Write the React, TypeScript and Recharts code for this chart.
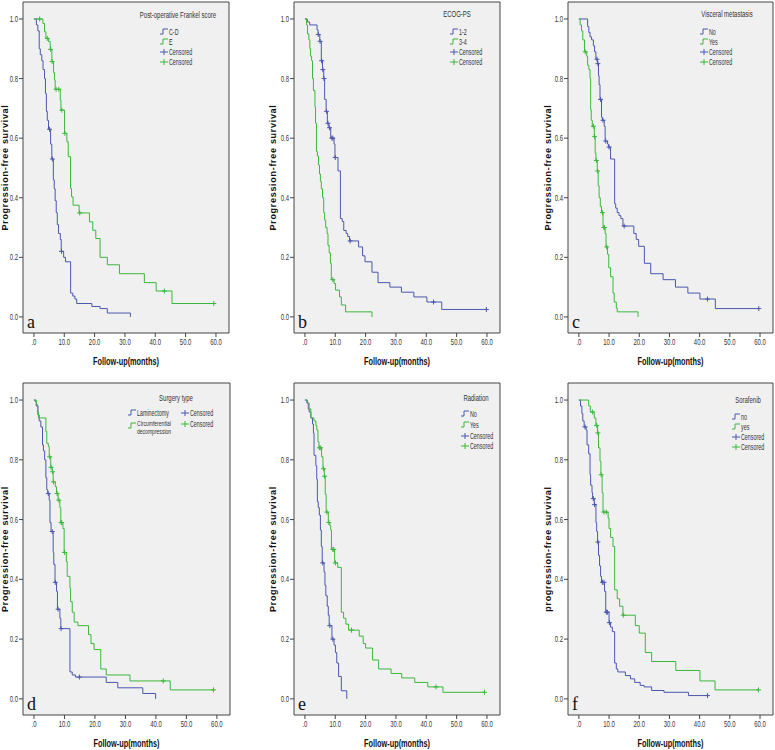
import React from 'react';
import { ComposedChart, Line, XAxis, YAxis, ReferenceArea, Label } from 'recharts';

type Pt = [number, number];

// a: Post-operative Frankel score
const aCD: Pt[] = [[0, 1], [0.8, 0.98], [1.3, 0.96], [1.75, 0.9], [2.1, 0.88], [2.6, 0.86], [3.0, 0.83], [3.5, 0.8], [3.8, 0.75], [4.1, 0.69], [4.4, 0.66], [4.8, 0.63], [5.5, 0.58], [5.9, 0.53], [6.4, 0.46], [6.7, 0.43], [7.0, 0.39], [7.35, 0.35], [7.7, 0.31], [8.1, 0.28], [8.7, 0.26], [9.0, 0.22], [9.8, 0.2], [10.4, 0.185], [12.1, 0.08], [12.8, 0.07], [13.5, 0.06], [14.1, 0.045], [19.1, 0.035], [21.8, 0.028], [24.2, 0.013], [31.8, 0]];
const aCDCens: Pt[] = [[5.15, 0.63], [6.1, 0.53], [9.1, 0.22]];
const aE: Pt[] = [[0, 1], [2.96, 0.985], [3.5, 0.957], [3.95, 0.935], [4.83, 0.924], [5.37, 0.898], [5.92, 0.857], [6.47, 0.82], [6.8, 0.795], [7.0, 0.764], [8.67, 0.728], [8.9, 0.694], [10.1, 0.616], [10.86, 0.588], [11.3, 0.538], [12.06, 0.431], [12.4, 0.403], [12.9, 0.375], [14.9, 0.349], [18.3, 0.319], [19.4, 0.291], [20.4, 0.263], [21.8, 0.2], [24.2, 0.175], [28.2, 0.145], [36.4, 0.115], [40.3, 0.087], [45.5, 0.045], [59.3, 0.045]];
const aECens: Pt[] = [[1.9, 1], [4.4, 0.935], [5.5, 0.898], [6.0, 0.857], [7.3, 0.764], [8.2, 0.764], [9.2, 0.694], [10.2, 0.616], [15.1, 0.349], [43, 0.087], [59.3, 0.045]];

// b: ECOG-PS
const b12: Pt[] = [[0, 1], [0.8, 0.99], [1.6, 0.98], [4.0, 0.963], [4.35, 0.948], [4.9, 0.925], [5.4, 0.86], [5.8, 0.83], [6.2, 0.8], [6.5, 0.73], [7.0, 0.69], [7.4, 0.65], [7.9, 0.635], [8.5, 0.6], [9.6, 0.58], [9.9, 0.535], [10.9, 0.49], [11.7, 0.33], [12.3, 0.32], [12.8, 0.29], [13.6, 0.28], [14.1, 0.27], [14.7, 0.255], [17.7, 0.235], [19.0, 0.205], [19.8, 0.185], [22.1, 0.15], [24.1, 0.115], [28.0, 0.1], [31.8, 0.083], [35.9, 0.067], [40.2, 0.05], [45.1, 0.025], [59.8, 0.025]];
const b12Cens: Pt[] = [[4.4, 0.948], [5.0, 0.925], [5.5, 0.86], [5.9, 0.83], [6.3, 0.8], [7.1, 0.69], [7.6, 0.65], [8.1, 0.635], [8.9, 0.6], [9.2, 0.6], [10.0, 0.535], [14.9, 0.255], [42.4, 0.05], [59.8, 0.025]];
const b34: Pt[] = [[0, 1], [0.55, 0.98], [0.87, 0.95], [1.3, 0.93], [1.63, 0.9], [1.85, 0.875], [2.2, 0.86], [2.5, 0.8], [2.8, 0.76], [3.3, 0.705], [3.5, 0.65], [3.8, 0.555], [4.1, 0.54], [4.45, 0.51], [4.8, 0.48], [5.1, 0.455], [5.4, 0.43], [5.8, 0.4], [6.2, 0.35], [6.5, 0.325], [6.85, 0.3], [7.3, 0.28], [7.6, 0.24], [8.0, 0.215], [8.4, 0.18], [8.7, 0.125], [9.6, 0.112], [10.1, 0.09], [11.4, 0.067], [12.0, 0.04], [13.4, 0.017], [22.1, 0]];
const b34Cens: Pt[] = [[9.2, 0.125]];

// c: Visceral metastasis
const cNo: Pt[] = [[0, 1], [2.9, 0.975], [3.3, 0.955], [3.7, 0.94], [4.2, 0.93], [4.8, 0.91], [5.2, 0.89], [5.65, 0.865], [6.2, 0.85], [6.5, 0.81], [6.7, 0.78], [7.0, 0.73], [7.5, 0.67], [7.8, 0.66], [8.4, 0.64], [8.7, 0.59], [9.5, 0.58], [9.8, 0.57], [10.5, 0.53], [11.85, 0.38], [12.2, 0.365], [12.7, 0.35], [13.3, 0.34], [13.9, 0.33], [14.6, 0.305], [18.2, 0.28], [19.0, 0.26], [19.8, 0.237], [21.7, 0.18], [23.8, 0.145], [27.9, 0.125], [32.0, 0.1], [36.1, 0.08], [40.1, 0.06], [45.2, 0.028], [59.6, 0.028]];
const cNoCens: Pt[] = [[6.0, 0.865], [6.3, 0.85], [7.2, 0.73], [8.0, 0.66], [8.9, 0.59], [10.0, 0.57], [15.0, 0.305], [42.6, 0.06], [59.6, 0.028]];
const cYes: Pt[] = [[0, 1], [0.43, 0.98], [0.87, 0.96], [1.3, 0.93], [1.85, 0.89], [2.6, 0.875], [2.9, 0.845], [3.3, 0.83], [3.7, 0.8], [3.9, 0.695], [4.1, 0.66], [4.45, 0.64], [5.1, 0.605], [5.4, 0.55], [5.65, 0.525], [6.1, 0.49], [6.4, 0.44], [6.7, 0.4], [7.1, 0.37], [7.5, 0.35], [8.0, 0.3], [8.7, 0.28], [9.0, 0.235], [9.5, 0.21], [9.9, 0.165], [10.5, 0.135], [11.3, 0.08], [11.7, 0.05], [12.4, 0.03], [12.7, 0.017], [19.6, 0]];
const cYesCens: Pt[] = [[2.1, 0.89], [4.8, 0.64], [5.2, 0.605], [5.8, 0.525], [6.2, 0.49], [7.8, 0.35], [8.3, 0.3], [8.5, 0.3], [9.2, 0.235]];

// d: Surgery type
const dLam: Pt[] = [[0, 1], [0.43, 0.995], [0.75, 0.98], [1.3, 0.95], [1.7, 0.93], [2.25, 0.91], [2.8, 0.85], [3.1, 0.83], [3.5, 0.8], [3.9, 0.74], [4.2, 0.7], [4.5, 0.687], [5.0, 0.665], [5.25, 0.59], [5.6, 0.56], [6.3, 0.49], [6.5, 0.45], [6.9, 0.39], [7.4, 0.36], [7.7, 0.3], [8.5, 0.27], [8.8, 0.235], [11.8, 0.09], [12.55, 0.08], [13.6, 0.073], [23.7, 0.055], [27.5, 0.037], [35.7, 0.018], [39.9, 0]];
const dLamCens: Pt[] = [[4.7, 0.687], [6.0, 0.56], [7.0, 0.39], [7.9, 0.3], [8.9, 0.235], [14.9, 0.073]];
const dCirc: Pt[] = [[0, 1], [0.75, 0.985], [1.2, 0.96], [1.5, 0.94], [3.9, 0.895], [4.2, 0.855], [4.7, 0.845], [5.0, 0.81], [5.5, 0.775], [6.0, 0.76], [6.3, 0.726], [7.0, 0.71], [7.4, 0.687], [7.9, 0.665], [8.5, 0.64], [8.8, 0.59], [9.5, 0.57], [9.9, 0.49], [10.6, 0.46], [10.9, 0.41], [11.8, 0.37], [12.0, 0.325], [12.55, 0.29], [13.2, 0.257], [14.4, 0.245], [17.9, 0.215], [18.7, 0.185], [19.7, 0.165], [21.9, 0.1], [23.7, 0.08], [31.5, 0.06], [44.7, 0.03], [58.9, 0.03]];
const dCircCens: Pt[] = [[5.15, 0.81], [5.6, 0.775], [6.1, 0.76], [6.4, 0.726], [7.6, 0.687], [8.15, 0.665], [8.9, 0.59], [9.1, 0.59], [10.0, 0.49], [42.4, 0.06], [58.9, 0.03]];

// e: Radiation
const eNo: Pt[] = [[0, 1], [0.65, 0.99], [1.1, 0.97], [1.4, 0.96], [1.95, 0.94], [2.5, 0.92], [2.8, 0.89], [3.0, 0.815], [3.6, 0.78], [3.9, 0.735], [4.1, 0.66], [4.4, 0.64], [4.75, 0.615], [5.1, 0.565], [5.4, 0.51], [5.7, 0.455], [6.3, 0.425], [6.6, 0.38], [6.9, 0.345], [7.35, 0.31], [7.7, 0.28], [8.0, 0.245], [8.9, 0.2], [9.6, 0.18], [10.05, 0.155], [10.5, 0.12], [11.1, 0.075], [12.0, 0.027], [13.8, 0]];
const eNoCens: Pt[] = [[5.85, 0.455], [8.2, 0.245], [9.2, 0.2]];
const eYes: Pt[] = [[0, 1], [0.86, 0.99], [1.4, 0.97], [1.95, 0.94], [3.0, 0.93], [3.6, 0.915], [3.9, 0.9], [4.3, 0.86], [4.65, 0.84], [5.5, 0.81], [5.95, 0.77], [6.4, 0.745], [6.7, 0.685], [7.0, 0.625], [7.7, 0.59], [8.2, 0.58], [8.5, 0.565], [8.75, 0.5], [9.8, 0.455], [10.8, 0.44], [12.0, 0.29], [12.75, 0.27], [13.5, 0.25], [14.4, 0.23], [17.9, 0.21], [19.2, 0.185], [20.0, 0.17], [22.3, 0.13], [24.3, 0.1], [28.4, 0.085], [31.9, 0.07], [36.2, 0.055], [40.5, 0.04], [45.5, 0.022], [59.2, 0.022]];
const eYesCens: Pt[] = [[4.75, 0.84], [5.2, 0.84], [6.15, 0.77], [6.5, 0.745], [7.25, 0.625], [7.9, 0.59], [9.2, 0.5], [9.5, 0.5], [10.05, 0.455], [15.35, 0.23], [43.2, 0.04], [59.2, 0.022]];

// f: Sorafenib
const fNo: Pt[] = [[0, 1], [0.55, 0.98], [1.0, 0.955], [1.3, 0.93], [1.75, 0.91], [2.4, 0.9], [2.7, 0.85], [3.25, 0.82], [3.7, 0.75], [3.9, 0.715], [4.35, 0.69], [4.55, 0.67], [5.1, 0.65], [5.65, 0.59], [5.9, 0.56], [6.2, 0.525], [6.5, 0.48], [6.85, 0.445], [7.2, 0.41], [7.5, 0.39], [8.5, 0.36], [8.9, 0.29], [10.0, 0.255], [10.5, 0.24], [11.1, 0.225], [11.85, 0.12], [12.4, 0.1], [12.9, 0.09], [15.4, 0.078], [17.1, 0.067], [18.5, 0.055], [20.3, 0.045], [21.6, 0.04], [24.1, 0.028], [28.2, 0.022], [36.3, 0.011], [42.6, 0.011]];
const fNoCens: Pt[] = [[2.05, 0.91], [4.8, 0.67], [5.2, 0.65], [6.3, 0.525], [7.8, 0.39], [8.3, 0.39], [9.1, 0.29], [9.45, 0.29], [10.1, 0.255], [42.6, 0.011]];
const fYes: Pt[] = [[0, 1], [3.25, 0.98], [3.8, 0.96], [5.1, 0.94], [5.65, 0.915], [6.2, 0.89], [6.5, 0.84], [7.0, 0.795], [7.3, 0.75], [7.7, 0.69], [8.0, 0.625], [9.7, 0.605], [10.0, 0.57], [10.5, 0.54], [11.3, 0.51], [11.85, 0.365], [12.7, 0.335], [13.5, 0.31], [14.6, 0.28], [18.7, 0.245], [20.0, 0.22], [22.0, 0.155], [24.1, 0.125], [32.1, 0.095], [40.1, 0.06], [45.1, 0.03], [59.5, 0.03]];
const fYesCens: Pt[] = [[4.55, 0.96], [5.9, 0.915], [6.3, 0.89], [7.4, 0.75], [8.3, 0.625], [9.1, 0.625], [14.7, 0.28], [59.5, 0.03]];

const xTicks = [0, 10, 20, 30, 40, 50, 60];
const yTicks = [0, 0.2, 0.4, 0.6, 0.8, 1];
const X_DOMAIN: [number, number] = [-3.6, 64.3];
const Y_DOMAIN: [number, number] = [-0.054, 1.057];

const BLUE = '#4b57ae';
const GREEN = '#3cb73c';
const SANS = "'Liberation Sans', Arial, sans-serif";
const SERIF = "'Liberation Serif', 'Times New Roman', serif";

const rows = (pts: Pt[]) => pts.map(([t, s]) => ({ t, s }));

// narrow SPSS-like text: horizontally squeezed Liberation Sans
const NText = ({ x, y, k = 0.63, size = 8.5, anchor = 'start', bold = false, fill = '#333', children }: any) => (
  <text
    transform={`translate(${x} ${y}) scale(${k} 1)`}
    textAnchor={anchor}
    fontFamily={SANS}
    fontSize={size}
    fontWeight={bold ? 'bold' : 'normal'}
    fill={fill}
  >
    {children}
  </text>
);

const XTick = ({ x, y, payload }: any) => {
  const v = payload.value as number;
  return (
    <NText x={x} y={y + 7} anchor="middle" k={0.7}>
      {v === 0 ? '.0' : v.toFixed(1)}
    </NText>
  );
};

const YTick = ({ x, y, payload }: any) => (
  <NText x={x} y={y + 3} anchor="end" k={0.7}>
    {(payload.value as number).toFixed(1)}
  </NText>
);

const Cross = ({ cx, cy, color }: any) => {
  if (cx == null || cy == null) return null;
  return (
    <g stroke={color} strokeWidth={1}>
      <line x1={cx - 2.5} x2={cx + 2.5} y1={cy} y2={cy} />
      <line x1={cx} x2={cx} y1={cy - 2.5} y2={cy + 2.5} />
    </g>
  );
};

type Frame = { x: number; y: number; w: number; h: number };

interface PanelProps {
  frame: Frame;
  series: { pts: Pt[]; cens: Pt[]; color: string }[];
  yLabel: string;
  yGap: number;
}

const Panel = ({ frame, series, yLabel, yGap }: PanelProps) => {
  const left = 40;
  const top = 5;
  return (
    <div style={{ position: 'absolute', left: frame.x - left, top: frame.y - top }}>
      <ComposedChart width={frame.w + left + 5} height={frame.h + top + 50} margin={{ top, right: 5, bottom: 0, left: 0 }}>
        <XAxis
          type="number"
          dataKey="t"
          domain={X_DOMAIN}
          ticks={xTicks}
          interval={0}
          allowDataOverflow
          height={50}
          axisLine={false}
          tickSize={4}
          tickMargin={1}
          tickLine={{ stroke: '#444' }}
          tick={<XTick />}
        >
          <Label
            content={(p: any) => {
              const vb = p.viewBox;
              return (
                <NText x={vb.x + vb.width / 2} y={vb.y + 32} anchor="middle" size={10.5} k={0.7} bold fill="#111">
                  Follow-up(months)
                </NText>
              );
            }}
          />
        </XAxis>
        <YAxis
          type="number"
          dataKey="s"
          domain={Y_DOMAIN}
          ticks={yTicks}
          interval={0}
          allowDataOverflow
          width={left}
          axisLine={false}
          tickSize={4}
          tickMargin={1}
          tickLine={{ stroke: '#444' }}
          tick={<YTick />}
        >
          <Label
            content={(p: any) => {
              const vb = p.viewBox;
              const cx = vb.x + vb.width - yGap;
              const cy = vb.y + vb.height / 2;
              return (
                <text x={cx} y={cy} transform={`rotate(-90 ${cx} ${cy})`} textAnchor="middle" dominantBaseline="central" fontFamily={SANS} fontWeight="bold" fontSize={9} fill="#111" style={{ letterSpacing: 0.7 }}>
                  {yLabel}
                </text>
              );
            }}
          />
        </YAxis>
        <ReferenceArea x1={X_DOMAIN[0]} x2={X_DOMAIN[1]} y1={Y_DOMAIN[0]} y2={Y_DOMAIN[1]} fill="#f0f0f0" fillOpacity={1} stroke="#444" strokeWidth={1} ifOverflow="visible" />
        {series.map((s, i) => (
          <Line key={`l${i}`} data={rows(s.pts)} dataKey="s" type="stepAfter" stroke={s.color} strokeWidth={1} dot={false} activeDot={false} isAnimationActive={false} />
        ))}
        {series.map((s, i) => (
          <Line
            key={`c${i}`}
            data={rows(s.cens)}
            dataKey="s"
            stroke="none"
            activeDot={false}
            isAnimationActive={false}
            dot={(p: any) => <Cross key={`d${i}-${p.index}`} cx={p.cx} cy={p.cy} color={s.color} />}
          />
        ))}
      </ComposedChart>
    </div>
  );
};

const StepIcon = ({ x, y, color }: any) => <path d={`M${x},${y + 2} H${x + 3} V${y - 3} H${x + 8}`} stroke={color} fill="none" strokeWidth={1} />;
const PlusIcon = ({ x, y, color }: any) => (
  <g stroke={color} strokeWidth={1}>
    <line x1={x} x2={x + 8} y1={y} y2={y} />
    <line x1={x + 4} x2={x + 4} y1={y - 3} y2={y + 3} />
  </g>
);

const VLegend = ({ title, tx, ty, sx, ry, labels }: { title: string; tx: number; ty: number; sx: number; ry: number[]; labels: string[] }) => (
  <g>
    <NText x={tx} y={ty + 3} anchor="middle" size={9.5}>{title}</NText>
    <StepIcon x={sx} y={ry[0]} color={BLUE} />
    <StepIcon x={sx} y={ry[1]} color={GREEN} />
    <PlusIcon x={sx} y={ry[2]} color={BLUE} />
    <PlusIcon x={sx} y={ry[3]} color={GREEN} />
    {labels.map((l, i) => (
      <NText key={l + i} x={sx + 9} y={ry[i] + 3}>{l}</NText>
    ))}
  </g>
);

const frames: Frame[] = [
  { x: 23, y: 2, w: 206, h: 331 },
  { x: 294, y: 2, w: 206, h: 331 },
  { x: 568, y: 2, w: 205, h: 331 },
  { x: 23, y: 383, w: 207, h: 332 },
  { x: 294, y: 383, w: 206, h: 332 },
  { x: 568, y: 383, w: 205, h: 332 },
];
const letters = ['a', 'b', 'c', 'd', 'e', 'f'];

export default function App() {
  const pfs = 'Progression-free survival';
  return (
    <div style={{ position: 'absolute', left: 0, top: 0, width: 775, height: 750, background: '#fff', overflow: 'hidden' }}>
      <Panel frame={frames[0]} yLabel={pfs} yGap={18} series={[{ pts: aCD, cens: aCDCens, color: BLUE }, { pts: aE, cens: aECens, color: GREEN }]} />
      <Panel frame={frames[1]} yLabel={pfs} yGap={21} series={[{ pts: b12, cens: b12Cens, color: BLUE }, { pts: b34, cens: b34Cens, color: GREEN }]} />
      <Panel frame={frames[2]} yLabel={pfs} yGap={20} series={[{ pts: cNo, cens: cNoCens, color: BLUE }, { pts: cYes, cens: cYesCens, color: GREEN }]} />
      <Panel frame={frames[3]} yLabel={pfs} yGap={18} series={[{ pts: dLam, cens: dLamCens, color: BLUE }, { pts: dCirc, cens: dCircCens, color: GREEN }]} />
      <Panel frame={frames[4]} yLabel={pfs} yGap={21} series={[{ pts: eNo, cens: eNoCens, color: BLUE }, { pts: eYes, cens: eYesCens, color: GREEN }]} />
      <Panel frame={frames[5]} yLabel="progression-free survival" yGap={20} series={[{ pts: fNo, cens: fNoCens, color: BLUE }, { pts: fYes, cens: fYesCens, color: GREEN }]} />
      <svg width={775} height={750} style={{ position: 'absolute', left: 0, top: 0, pointerEvents: 'none' }}>
        {frames.map((f, i) => (
          <text key={letters[i]} x={f.x + 4} y={f.y + f.h - 5} fontFamily={SERIF} fontSize={18} fill="#111">{letters[i]}</text>
        ))}
        <VLegend title="Post-operative Frankel score" tx={178} ty={15} sx={160} ry={[32, 42, 52, 62]} labels={['C-D', 'E', 'Censored', 'Censored']} />
        <VLegend title="ECOG-PS" tx={457} ty={14} sx={450} ry={[32, 42, 52, 62]} labels={['1-2', '3-4', 'Censored', 'Censored']} />
        <VLegend title="Visceral metastasis" tx={727} ty={14} sx={700} ry={[32, 42, 52, 62]} labels={['No', 'Yes', 'Censored', 'Censored']} />
        <g>
          <NText x={176} y={401} anchor="middle" size={9.5}>Surgery type</NText>
          <StepIcon x={128} y={413} color={BLUE} />
          <NText x={137} y={416}>Laminectomy</NText>
          <StepIcon x={128} y={426} color={GREEN} />
          <NText x={137} y={425.5} size={8}>Circumferential</NText>
          <NText x={137} y={433.5} size={8}>decompression</NText>
          <PlusIcon x={181} y={413} color={BLUE} />
          <NText x={190} y={416}>Censored</NText>
          <PlusIcon x={181} y={424} color={GREEN} />
          <NText x={190} y={427}>Censored</NText>
        </g>
        <VLegend title="Radiation" tx={476} ty={398} sx={461} ry={[414, 425, 436, 446]} labels={['No', 'Yes', 'Censored', 'Censored']} />
        <VLegend title="Sorafenib" tx={748} ty={400} sx={732} ry={[417, 427, 437, 447]} labels={['no', 'yes', 'Censored', 'Censored']} />
      </svg>
    </div>
  );
}
